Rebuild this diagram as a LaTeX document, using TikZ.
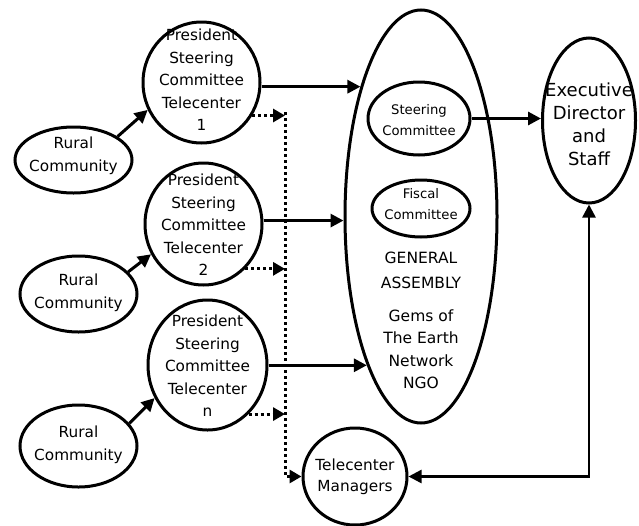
\documentclass[tikz,border=0pt]{standalone}
\usepackage{fontspec}
\setmainfont{DejaVu Sans}
\usetikzlibrary{shapes.geometric,arrows.meta}
\begin{document}
\begin{tikzpicture}[x=1pt,y=-1pt,
  ell/.style={draw, ellipse, line width=3pt, inner sep=0pt},
  txt/.style={align=center, inner sep=0pt, font=\fontsize{15.3}{22.5}\selectfont},
  arr/.style={line width=3pt, -{Triangle[length=13pt,width=13pt]}},
  dotarr/.style={line width=3pt, dash pattern=on 3pt off 3pt, -{Triangle[length=12pt,width=13pt]}},
  biarr/.style={line width=2.4pt, {Triangle[length=13pt,width=13pt]}-{Triangle[length=13pt,width=13pt]}}]
\useasboundingbox (0,0) rectangle (639,525);

% ellipses
\node[ell, minimum width=117pt, minimum height=66pt] (r1) at (73.5,160) {};
\node[ell, minimum width=117pt, minimum height=76pt] (r2) at (78.5,294) {};
\node[ell, minimum width=117pt, minimum height=82pt] (r3) at (78.5,446) {};
\node[ell, minimum width=117pt, minimum height=121pt] (p1) at (201.5,82.5) {};
\node[ell, minimum width=117pt, minimum height=122pt] (p2) at (203.5,224) {};
\node[ell, minimum width=119pt, minimum height=130pt] (pn) at (207.5,365) {};
\node[ell, minimum width=152pt, minimum height=413pt] (ga) at (421,216.5) {};
\node[ell, minimum width=102pt, minimum height=73pt] (sc) at (419,118.5) {};
\node[ell, minimum width=98pt, minimum height=57pt] (fc) at (421,208.5) {};
\node[ell, minimum width=93pt, minimum height=165pt] (ex) at (589,120.5) {};
\node[ell, minimum width=104pt, minimum height=97pt] (tm) at (355,476.5) {};

% texts
\node[txt] (r1t) at (73.5,156) {Rural\\Community};
\node[txt] (r2t) at (78.5,293) {Rural\\Community};
\node[txt] (r3t) at (78.5,445) {Rural\\Community};
\node[txt] (p1t) at (201.5,80) {President\\Steering\\Committee\\Telecenter\\1};
\node[txt] (p2t) at (203.5,225) {President\\Steering\\Committee\\Telecenter\\2};
\node[txt] (pnt) at (207.5,366) {President\\Steering\\Committee\\Telecenter\\n};
\node[txt, font=\fontsize{13.2}{21}\selectfont] (sct) at (419,120) {Steering\\Committee};
\node[txt, font=\fontsize{13.2}{21}\selectfont] (fct) at (421,204) {Fiscal\\Committee};
\node[txt, font=\fontsize{15.5}{25}\selectfont] (gat1) at (421,270) {GENERAL\\ASSEMBLY};
\node[txt, font=\fontsize{15.5}{22.5}\selectfont] (gat2) at (421,349) {Gems of\\The Earth\\Network\\NGO};
\node[txt, font=\fontsize{18}{23}\selectfont] (ext) at (589,124) {Executive\\Director\\and\\Staff};
\node[txt, font=\fontsize{15.3}{21.5}\selectfont] (tmt) at (355,477) {Telecenter\\Managers};

% connectors
\draw[arr] (r1.28) -- (p1.207);
\draw[arr] (r2.24) -- (p2.210);
\draw[arr] (r3.24) -- (pn.212);
\draw[arr] (ga.115 -| p1.east) -- (ga.115);
\draw[arr] (ga.183 -| p2.east) -- (ga.183);
\draw[arr] (ga.250 -| pn.east) -- (ga.250);
\draw[arr] (sc.east) -- (sc.east -| ex.west);

\coordinate (vt) at (285,112);
\draw[dotarr] (p1.-33) -- (p1.-33 -| vt);
\draw[dotarr] (p2.-47) -- (p2.-47 -| vt);
\draw[dotarr] (pn.-50) -- (pn.-50 -| vt);
\draw[dotarr] (vt) |- (tm.west);

\draw[biarr] (ex.south) |- (tm.east);
\end{tikzpicture}
\end{document}
